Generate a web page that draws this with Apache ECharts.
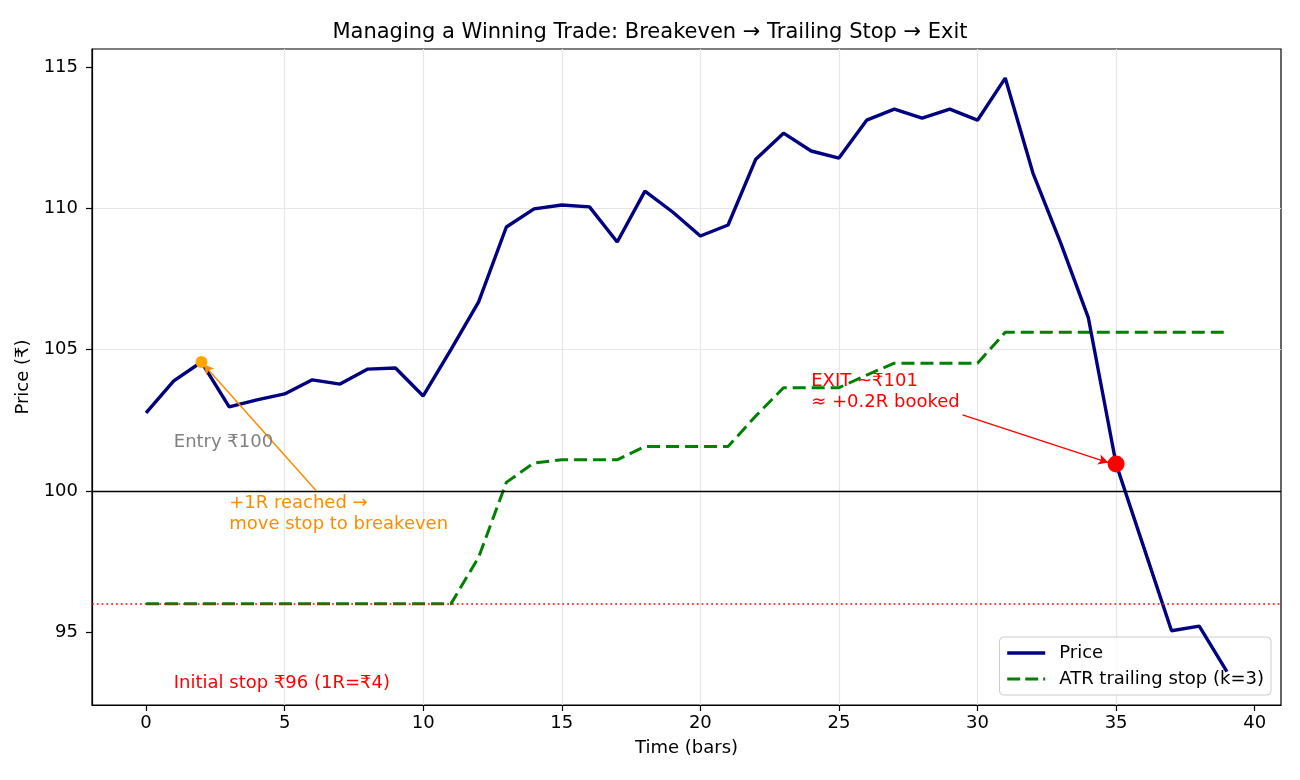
<!DOCTYPE html>
<html>
<head>
<meta charset="utf-8">
<script src="https://cdn.jsdelivr.net/npm/echarts@6/dist/echarts.min.js"></script>
<style>
html, body { margin: 0; padding: 0; background: #fff; }
#chart { width: 1300px; height: 780px; }
</style>
</head>
<body>
<div id="chart"></div>
<script>
// bars on the x axis
var bars = [0, 1, 2, 3, 4, 5, 6, 7, 8, 9, 10, 11, 12, 13, 14, 15, 16, 17, 18, 19,
            20, 21, 22, 23, 24, 25, 26, 27, 28, 29, 30, 31, 32, 33, 34, 35, 36, 37, 38, 39];
// close price per bar
var price = [102.76, 103.89, 104.56, 102.97, 103.22, 103.43, 103.93, 103.78, 104.31, 104.35,
             103.36, 105.0, 106.69, 109.34, 109.98, 110.12, 110.05, 108.81, 110.61, 109.87,
             109.02, 109.41, 111.74, 112.66, 112.03, 111.78, 113.12, 113.51, 113.19, 113.51,
             113.12, 114.61, 111.25, 108.78, 106.12, 100.95, 98.0, 95.05, 95.21, 93.6];
// ATR trailing stop (k=3)
var trail = [96, 96, 96, 96, 96, 96, 96, 96, 96, 96,
             96, 96, 97.65, 100.3, 100.99, 101.1, 101.1, 101.1, 101.57, 101.57,
             101.57, 101.57, 102.65, 103.65, 103.65, 103.65, 104.1, 104.52, 104.52, 104.52,
             104.52, 105.61, 105.61, 105.61, 105.61, 105.61, 105.61, 105.61, 105.61, 105.61];

var entryLevel = 100;
var initialStop = 96;
var breakevenPt = [2, 104.56];
var exitPt = [35, 100.95];
var xTicks = [0, 5, 10, 15, 20, 25, 30, 35, 40];
var yTicks = [95, 100, 105, 110, 115];

var FONT = 'DejaVu Sans';

var chart = echarts.init(document.getElementById('chart'));

function pairs(xs, ys) {
    var out = [];
    for (var i = 0; i < xs.length; i++) out.push([xs[i], ys[i]]);
    return out;
}

function tickFmt(list) {
    return function (v) {
        for (var i = 0; i < list.length; i++) {
            if (Math.abs(v - list[i]) < 1e-6) return String(list[i]);
        }
        return '';
    };
}

var option = {
    animation: false,
    backgroundColor: '#fff',
    textStyle: { fontFamily: FONT },
    title: {
        text: 'Managing a Winning Trade: Breakeven \u2192 Trailing Stop \u2192 Exit',
        left: 'center',
        top: 17,
        textStyle: { fontFamily: FONT, fontSize: 21, fontWeight: 'normal', color: '#000' }
    },
    grid: {
        left: 92, right: 19, top: 49, bottom: 75,
        show: true, borderColor: '#000', borderWidth: 1.2, backgroundColor: 'transparent'
    },
    legend: {
        data: [
            {
                name: 'Price', icon: 'inherit',
                itemStyle: { opacity: 0, borderWidth: 0 },
                lineStyle: { color: '#000080', width: 3.4, type: 'solid' }
            },
            {
                name: 'ATR trailing stop (k=3)', icon: 'inherit',
                itemStyle: { opacity: 0, borderWidth: 0 },
                lineStyle: { color: '#008000', width: 3, type: [13, 5] }
            }
        ],
        orient: 'vertical',
        right: 29,
        bottom: 85,
        itemWidth: 38,
        itemHeight: 14,
        itemGap: 8,
        padding: [7, 7, 7, 6],
        backgroundColor: 'rgba(255,255,255,0.8)',
        borderColor: '#cccccc',
        borderWidth: 1,
        borderRadius: 4,
        textStyle: { fontFamily: FONT, fontSize: 18, color: '#000', padding: [0, 0, 0, 9] }
    },
    xAxis: {
        type: 'value',
        min: -1.95,
        max: 40.95,
        splitNumber: 8,
        minInterval: 5,
        maxInterval: 5,
        name: 'Time (bars)',
        nameLocation: 'middle',
        nameGap: 34,
        nameTextStyle: { fontFamily: FONT, fontSize: 18, color: '#000' },
        axisLine: { show: true, onZero: false, lineStyle: { color: '#000', width: 1.2 } },
        axisTick: { show: true, length: 6, customValues: xTicks, lineStyle: { color: '#000', width: 1.2 } },
        axisLabel: { fontFamily: FONT, fontSize: 18, color: '#000', margin: 9, customValues: xTicks, formatter: tickFmt(xTicks) },
        splitLine: { show: true, showMinLine: false, showMaxLine: false, lineStyle: { color: '#e6e6e6', width: 1.2 } }
    },
    yAxis: {
        type: 'value',
        min: 92.42,
        max: 115.64,
        splitNumber: 5,
        minInterval: 5,
        maxInterval: 5,
        name: 'Price (\u20b9)',
        nameLocation: 'middle',
        nameGap: 53,
        nameRotate: 90,
        nameTextStyle: { fontFamily: FONT, fontSize: 18, color: '#000' },
        axisLine: { show: true, onZero: false, lineStyle: { color: '#000', width: 1.2 } },
        axisTick: { show: true, length: 6, customValues: yTicks, lineStyle: { color: '#000', width: 1.2 } },
        axisLabel: { fontFamily: FONT, fontSize: 18, color: '#000', margin: 14, customValues: yTicks, formatter: tickFmt(yTicks) },
        splitLine: { show: true, showMinLine: false, showMaxLine: false, lineStyle: { color: '#e6e6e6', width: 1.2 } }
    },
    series: [
        {
            // horizontal reference levels
            name: 'levels',
            type: 'scatter',
            data: [],
            silent: true,
            z: 1,
            markLine: {
                silent: true,
                symbol: ['none', 'none'],
                label: { show: false },
                data: [
                    { yAxis: entryLevel, lineStyle: { color: '#000', width: 1.3, type: 'solid' } },
                    { yAxis: initialStop, lineStyle: { color: '#ff0000', width: 1.5, type: [1.8, 3] } }
                ]
            }
        },
        {
            name: 'ATR trailing stop (k=3)',
            type: 'line',
            data: pairs(bars, trail),
            showSymbol: false,
            symbol: 'none',
            z: 3,
            lineStyle: { color: '#008000', width: 3, type: [13, 6] },
            itemStyle: { color: '#008000' }
        },
        {
            name: 'Price',
            type: 'line',
            data: pairs(bars, price),
            showSymbol: false,
            symbol: 'none',
            z: 4,
            lineStyle: { color: '#000080', width: 3.4 },
            itemStyle: { color: '#000080' }
        },
        {
            name: 'marks',
            type: 'scatter',
            z: 6,
            silent: true,
            data: [
                { value: breakevenPt, symbolSize: 12, itemStyle: { color: '#ffa500', opacity: 1 } },
                { value: exitPt, symbolSize: 17, itemStyle: { color: '#ff0000', opacity: 1 } }
            ]
        },
        {
            // annotation arrows
            name: 'arrows',
            type: 'scatter',
            data: [],
            silent: true,
            z: 5,
            markLine: {
                silent: true,
                symbol: ['none', 'arrow'],
                symbolSize: [8, 10],
                label: { show: false },
                data: [
                    [{ coord: [6.14, 100.0] }, { coord: [2.08, 104.47] }],
                    [{ coord: [29.46, 102.69] }, { coord: [34.72, 101.0] }]
                ].map(function (d, i) {
                    var c = i === 0 ? '#ff8c00' : '#ff0000';
                    d[0].lineStyle = { color: c, width: 1.5, type: 'solid' };
                    return d;
                })
            }
        },
        {
            // annotation texts
            name: 'notes',
            type: 'scatter',
            symbolSize: 0,
            silent: true,
            z: 7,
            itemStyle: { opacity: 1 },
            label: {
                show: true,
                position: 'right',
                distance: 0,
                fontFamily: FONT,
                fontSize: 18,
                lineHeight: 21,
                formatter: function (p) { return p.data.text; }
            },
            data: [
                { value: [1.0, 101.73], text: 'Entry \u20b9100', label: { color: '#808080' } },
                { value: [3.0, 99.17], text: '+1R reached \u2192\nmove stop to breakeven', label: { color: '#ff8c00' } },
                { value: [24.0, 103.52], text: 'EXIT ~\u20b9101\n\u2248 +0.2R booked', label: { color: '#ff0000' } },
                { value: [1.0, 93.17], text: 'Initial stop \u20b996 (1R=\u20b94)', label: { color: '#ff0000' } }
            ]
        }
    ]
};

chart.setOption(option);
</script>
</body>
</html>
